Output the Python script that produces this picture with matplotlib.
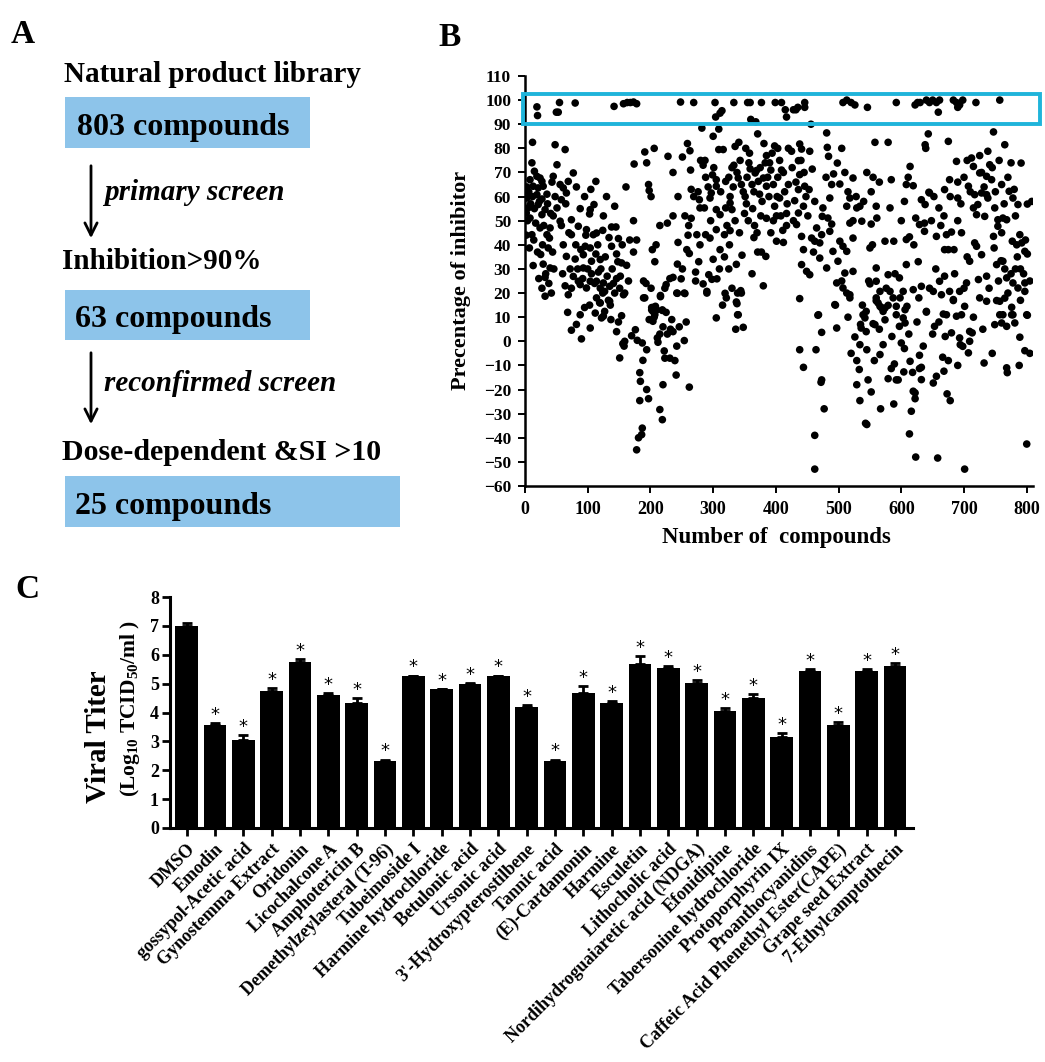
import numpy as np
import matplotlib
matplotlib.use("Agg")
import matplotlib.pyplot as plt
from matplotlib.patches import Rectangle

plt.rcParams['font.family'] = ['Liberation Serif', 'DejaVu Serif']
plt.rcParams['font.weight'] = 'bold'
plt.rcParams['mathtext.fontset'] = 'custom'
plt.rcParams['mathtext.rm'] = 'Liberation Serif:bold'
plt.rcParams['mathtext.it'] = 'Liberation Serif:bold'
plt.rcParams['mathtext.bf'] = 'Liberation Serif:bold'

# ---------------- Panel A (flow) ----------------
flow_headers = ["Natural product library", "Inhibition>90%", "Dose-dependent &SI >10"]
flow_boxes = ["803 compounds", "63 compounds", "25 compounds"]
flow_steps = ["primary screen", "reconfirmed screen"]

# ---------------- Panel B (scatter: compound number, % inhibition) ----------------
seg_a = [(12,82.5),(11,74),(15,70.5),(8,67),(19,68.4),(24,67.7),(27,66.3),(13,64.3),(21,63.6),(29,64.3),
         (3,59.4),(19,60.8),(21,56.7),(5,55.3),(2,53.2),(8,51.1),(27,52.5),(32,54.6),(24,47),(40,47),
         (11,44.2),(35,44.2),(39,42.8),(7,38.7),(37,38.7),(13,31.4),(29,32),(40,30.4),(32,26.5),(27,22),
         (32,18.7),(19,97.2),(20,93.6),(48,81.5),(51,73.2),(45,68.4),(56,65),(61,63.6),(64,79.5),(48,60),
         (58,58.7),(51,55.3),(56,49.8),(58,48),(50,95),(53,95),(55,99),(80,98.8),
         (3,64),(6,62),(9,57),(12,60),(15,55),(4,50),(17,49),(23,58),(27,59),(30,48),(35,61),(36,57),
         (41,53),(43,66),(45,52),(2,44),(14,42),(20,37),(25,36),(28,40),(33,28),(38,24),(44,37),(46,30),
         (42,20),(22,26),(74,50.4),(74,44.2),(61,40),(66,35.2),(80,34.1),(77,69.8),(69,66.3),(66,61.5),
         (69,19.3),(74,22),(77,26.9),(65,57),(70,45),(72,30),(60,28),(64,23),(68,12),(74,4.6)]
seg_b = [(85,47.7),(98,46.3),(109,44.2),(81,40),(96,39.4),(104,38.7),(93,35.9),(106,33.2),(93,30.4),(85,24.9),
         (98,22.1),(88,23.5),(104,24.9),(113,66.3),(110,56.7),(104,54.6),(103,52.8),(114,44.9),(113,36.2),(120,33.9),
         (117,28.7),(125,24.2),(114,24.9),(120,22),(127,20.7),(135,22.8),(143,20),(151,22),(157,19.3),(120,15.9),
         (135,16.6),(127,12.4),(125,10.4),(143,56),(138,47.4),(145,47.4),(149,42.6),(138,39.4),(146,36.2),(154,32.5),
         (162,31.5),(146,26),(142,97.4),(82,7),(90,1),(88,11),(95,14),(103,15),(104,5.5),(112,11.7),
         (114,18),(119,16),(122,9.7),(124,20),(133,17),(136,15),(137,9),(149,8),(146,4),(154,10.6),
         (151,-6.9),(156,-1),(158,-2),(159,0),(159,20),(84,30),(89,38),(92,26),(97,44),(100,30),
         (106,28),(111,24),(116,40),(121,30),(124,46),(128,35),(131,27),(134,43),(139,30),(141,24),
         (148,33),(152,27),(155,40),(88,55),(95,60),(105,63),(125,52),(130,60),(82,64)]
seg_c = [(157,98.5),(163,99),(168,99),(173,99.2),(178,98.5),(174,73.5),(161,64),(173,50),(167,42),(178,42),
         (173,37),(165,25),(191,78.5),(194,74),(197,65),(198,62.5),(201,60),(206,80),(215,48),(203,38),
         (209,40),(207,33),(189,25),(193,24),(201,22),(189,18),(202,14),(204,12.4),(210,13),(206,10),
         (216,18.5),(219,12.8),(223,22),(225,23.5),(228,76.7),(227,49),(231,26),(236,26.5),(236,70),(236,52),
         (244,60),(244,41),(243,32),(251,30),(249,25.9),(243,19.9),(255,19.8),(255,52),(261,48),(260,44),
         (248,99.2),(251,76.4),(259,82),(263,79),(258,38),(262,36.4),
         (170,2.3),(176,4.8),(179,0.4),(183,-13),(184,-16.6),(183,-24.6),(181,-40),(186,-38.7),(187,-36),(178,-45),
         (187,-0.7),(188,-7.9),(191,18),(194,-3.5),(194,-20),(197,-23.8),(198,9),(202,13),(204,14),(204,8.3),
         (207,11),(208,14.5),(211,1.4),(212,-0.4),(215,3),(215,-28.3),(219,-32.5),(216,19),(219,13),(225,12),
         (220,6),(222,-4),(220,-18),(223,-7),(227,3),(232,5),(234,9),(236,4),(231,-7),(239,-8),
         (241,-14),(242,-2),(246,6),(242,20),(254,20),(254,0.3),(257,8),(262,-19)]
seg_d = [(269,99),(264,71),(265,63),(269,60),(265,51),(272,25),(272,28.7),(277,33),(274,44.2),(279,40),
         (279,55.3),(276,62),(278,58.7),(280,75),(284,73),(282,88.4),(287,75),(292,64),(286,55.3),(288,44.2),
         (284,23.8),(290,20.7),(293,27.6),(298,25.7),(295,59.4),(303,99),(304,93),(311,94.6),(314,95.6),(300,85),
         (309,88),(301,72),(299,69),(305,67),(305,64.3),(297,61.5),(305,54.6),(311,52.5),(305,46.3),(318,44.2),
         (295,42.8),(311,38),(318,35),(309,79.5),(316,79.5),(320,66.3),(320,55.3),(306,25.9),(319,19.9),(305,9.7),
         (333,99),(335,80.8),(330,72),(333,73),(327,60),(327,57.3),(330,54.6),(327,45.9),(346,35.7),(337,31.9),
         (330,22),(345,20),(337,16.3),(340,11),(341,82.5),(340,67.7),(345,65),(351,60),(350,53),(355,99),
         (359,99),(360,92),(368,91),(371,86),(352,80),(358,78),(359,71.5),(369,70.8),(367,69.8),(372,66.3),
         (365,62),(374,61),(353,57),(366,48),(365,43),(371,37),(377,37),(362,28),(380,23),(377,99),
         (383,74),(380,67.7),(385,64.3),(396,65),(402,60),(406,59.4),(385,51),(396,50),(401,52),(408,52),
         (417,53),(401,41.5),(412,41),(411,46),(417,48),(384,35.2),(398,81),(403,80),(385,77),(390,74),
         (409,71),(412,70),(420,80),(420,65),(399,99),(409,99),(415,96),(417,93),
         (290,20),(321,18),(339,20),(344,21),(338,15.6),(339,11),(336,5),(348,5.8),
         (325,68),(332,64),(338,70),(343,75),(348,62),(354,68),(357,74),(362,65),(375,72),(378,58),
         (381,82),(387,68),(389,60),(392,71),(394,78),(398,56),(403,68),(406,75),(414,62),(418,57),
         (288,68),(296,50),(312,62),(322,48),(326,40),(335,50),(342,45),(356,50),(363,55),(370,45),
         (376,52),(392,45),(310,30),(300,34),(325,30),(315,15)]
seg_e = [(438,81.8),(425,78.8),(441,79.7),(436,74.9),(454,78.8),(438,69.1),(446,64.3),(436,62.9),(430,58.3),(444,56),
         (436,53.2),(433,48.4),(441,43.5),(457,42.8),(470,40.8),(462,41.5),(458,71.4),(453,62.9),(481,86.4),(482,80.4),
         (484,76.7),(498,73.9),(492,69.4),(480,68),(502,65.2),(489,65),(486,59.4),(475,55.3),(474,51.8),(483,51.1),
         (489,48.6),(486,45.6),(473,44.2),(491,37.3),(499,33.2),(449,29),(454,27.6),(441,31.8),(470,34.5),(481,30.4),
         (468,11),(494,15.2),(497,24.2),(507,22.1),(518,19.3),(510,28.3),(523,29),(438,17.7),
         (426,72),(432,66),(440,75),(445,70),(448,60),(451,52),(428,50),(465,47),(462,58),(460,37),(444,38),
         (428,96),(432,96),(435,97),(446,97),(446,99),(456,90),(507,99),(513,100),(520,99),(526,98),
         (546,97),(592,99),
         (558,82.5),(579,82.5),(555,68),(584,67),(582,55.3),(523,67.7),(518,59.4),(513,56),(534,56),(529,55.3),
         (523,50),(518,49),(537,49.8),(552,48.6),(561,51.1),(554,40),(550,38.7),(523,42.8),(507,39.4),(513,37.3),
         (502,41.5),(574,41.5),(588,41.5),
         (539,11),(544,12.4),(550,23.8),(560,30.4),(560,24.9),(566,20.7),(560,18),(566,14.5),(571,12.4),(579,27.6),
         (582,20.7),(587,18),(592,14.5),(592,11),(597,26.3),
         (467,10.8),(473,3.7),(438,-3.5),(464,-3.5),(444,-10.8),(473,-16),(472,-17),(477,-28),(462,-39),(462,-53),
         (497,5.5),(495,15),(513,20),(518,18),(526,1.8),(529,-8),(533,-11.7),(529,-18),(534,-24.6),(543,-34),
         (545,-34.5),(534,-1.4),(535,7),(536,5.5),(542,9.7),(544,4),(547,-16),(552,-21),(545,-3.5),(555,7.3),
         (558,6.9),(560,16.8),(563,15.9),(566,-5.5),(567,-28),(568,14),(571,-1.4),(574,8.9),(574,13.8),(579,-15.5),
         (579,14.9),(584,-11.3),(588,-26),(589,-9.4),(592,-16),(595,-16),(597,6.2),
         (505,25),(515,10),(520,-5),(538,15),(548,25),(557,-8),(565,5),(576,22),(585,2),(590,28),(598,18),
         (505,80),(510,70),(515,62),(528,60),(540,58),(545,70),(552,62),(560,56),(565,66)]
seg_f = [(622,98),(626,99),(630,99),(640,100),(645,99),(650,100),(656,99),(661,100),(659,95),(683,100),
         (688,99),(690,97),(693,98),(698,100),(719,99),(757,100),
         (614,72.5),(608,65),(619,64.5),(632,58.7),(638,56.7),(644,61.8),(638,81.5),(639,80),(643,86),(660,55.3),
         (669,62.9),(675,82.9),(677,67),(678,60),(690,59.4),(688,74.6),(707,64.3),(712,76),(715,72.5),(725,77),
         (738,78.8),(725,69.8),(736,68.4),(741,73.2),(744,67),(717,60.8),(722,56.7),(728,61.5),(736,60.8),(738,59.4),
         (715,55.3),(720,52.5),(733,51.8),(749,55.3),(754,50.4),(762,51.1),(768,50.4),(754,47.7),(772,62.2),(778,59.4),
         (786,56.7),(801,56.9),(747,86.8),(765,81.5),(791,73.9),(623,51.1),(629,48.4),(637,45.6),(656,43.5),(672,44.2),
         (680,45.3),(608,42.2),(613,43.3),(637,49),(645,61.5),(669,38),(675,38),(717,40.8),(720,39.4),(728,35.9),
         (747,43.5),(748,38.7),(777,41.5),(784,40),(789,44.2),(797,37.3),(801,36.2),(792,40.8),(709,33.2),(759,33.4),
         (603,20.7),(608,31.8),(606,13.1),(619,21.4),(632,22.8),(640,12.4),(651,20.7),(661,24.9),(664,19.3),(669,27),
         (672,11),(677,20.7),(683,17.3),(693,20.7),(696,11),(704,24.2),(723,25.6),(736,27),(736,16.6),(752,31.8),
         (762,33.2),(757,16.6),(762,11),(768,26.3),(778,24.2),(778,11),(786,22.1),(797,24.2),(800,11),
         (600,-0.7),(603,9.7),(604,-12.7),(606,7.6),(609,14.5),(614,-8.3),(613,-38.4),(616,-29),(619,-20.7),(622,-21.4),
         (622,-23.8),(623,-48),(618,-12.9),(629,-5.8),(629,-11.3),(632,-15.9),(632,-10.8),(640,12.1),(650,3),(651,-17.3),
         (653,6.2),(656,-14.5),(658,-48.4),(666,-6.6),(668,-12.4),(667,11.3),(673,-21.8),(678,-24.6),(680,3.5),(683,16.9),
         (688,10.4),(693,1.4),(694,-1.4),(698,-2.1),(701,14.5),(701,-53),(707,-4.8),(709,0),(709,4.1),(713,3.5),
         (732,-9),(749,6.9),(752,16.9),(757,11),(760,7.6),(765,17.9),(768,-11),(769,-13),(768,6.2),(776,14.1),
         (776,11),(781,7.6),(789,1.7),(788,-10),(797,-3.9),(801,10.8),(800,-42.6),(797,20.7),
         (605,-3),(612,3),(625,8),(628,18),(635,-2),(645,22),(655,30),(660,8),(670,2),(675,-8),(685,28),
         (690,-10),(700,22),(705,35),(715,10),(725,18),(730,5),(740,22),(745,-5),(755,25),(765,30),(770,20),
         (782,30),(790,17),(795,28),(805,-5),
         (700,68),(705,75),(710,62),(728,70),(732,64),(745,72),(750,62),(756,75),(760,65),(764,57),(770,68),
         (775,74),(780,63),(690,66),(695,57),(760,45),(782,52),(798,42),(805,25),(808,58),(790,30),(785,35),
         (775,28),(600,50),(605,58),(611,68),(620,40),(627,33),(648,50),(652,60),(663,48),(668,52),(684,38),
         (690,50),(696,45)]

# ---------------- Panel C (viral titer) ----------------
compounds = ["DMSO", "Emodin", "gossypol-Acetic acid", "Gynostemma Extract", "Oridonin",
             "Licochalcone A", "Amphotericin B", "Demethylzeylasteral (T-96)", "Tubeimoside I",
             "Harmine hydrochloride", "Betulonic acid", "Ursonic acid", "3'-Hydroxypterostilbene",
             "Tannic acid", "(E)-Cardamonin", "Harmine", "Esculetin", "Lithocholic acid",
             "Nordihydroguaiaretic acid (NDGA)", "Efonidipine", "Tabersonine hydrochloride",
             "Protoporphyrin IX", "Proanthocyanidins", "Caffeic Acid Phenethyl Ester(CAPE)",
             "Grape seed Extract", "7-Ethylcamptothecin"]
titer = [7.0, 3.55, 3.05, 4.75, 5.75, 4.62, 4.34, 2.33, 5.26, 4.80, 4.98, 5.26, 4.18,
         2.33, 4.69, 4.34, 5.67, 5.54, 5.02, 4.04, 4.50, 3.16, 5.45, 3.57, 5.45, 5.62]
titer_err = [0.10, 0.08, 0.17, 0.10, 0.09, 0.05, 0.17, 0.04, 0.02, 0.02, 0.03, 0.02, 0.09,
             0.04, 0.23, 0.07, 0.30, 0.07, 0.10, 0.10, 0.15, 0.14, 0.06, 0.10, 0.06, 0.10]
significant = [False] + [True] * 25

W, H = 1045, 1062
fig = plt.figure(figsize=(W / 100, H / 100), dpi=100)

# full-figure pixel axes for panel A and free text
axA = fig.add_axes([0, 0, 1, 1])
axA.set_xlim(0, W)
axA.set_ylim(H, 0)
axA.axis('off')

box_color = '#8dc4ea'
axA.text(11, 43, 'A', fontsize=24, fontweight='bold', va='baseline')
axA.text(438, 46, 'B', fontsize=24, fontweight='bold', va='baseline')
axA.text(15, 598, 'C', fontsize=24, fontweight='bold', va='baseline')

axA.text(64, 82, flow_headers[0], fontsize=21, va='baseline')
axA.add_patch(Rectangle((65, 97), 245, 51, color=box_color, lw=0))
axA.text(77, 135, flow_boxes[0], fontsize=23, va='baseline')
axA.annotate('', xy=(91, 241), xytext=(91, 163),
             arrowprops=dict(arrowstyle='->', lw=2, color='black', mutation_scale=22))
axA.text(104, 200, flow_steps[0], fontsize=21, style='italic', va='baseline')

axA.text(62, 269, flow_headers[1], fontsize=21, va='baseline')
axA.add_patch(Rectangle((65, 290), 245, 50, color=box_color, lw=0))
axA.text(75, 327, flow_boxes[1], fontsize=23, va='baseline')
axA.annotate('', xy=(91, 427), xytext=(91, 350),
             arrowprops=dict(arrowstyle='->', lw=2, color='black', mutation_scale=22))
axA.text(104, 391, flow_steps[1], fontsize=21, style='italic', va='baseline')

axA.text(62, 460, flow_headers[2], fontsize=21.5, va='baseline')
axA.add_patch(Rectangle((65, 476), 335, 51, color=box_color, lw=0))
axA.text(75, 514, flow_boxes[2], fontsize=23, va='baseline')

# ---------------- Panel B ----------------
pts = np.array(seg_a + seg_b + seg_c + seg_d + seg_e + seg_f, dtype=float)
axB = fig.add_axes([525 / W, 1 - 486 / H, 508 / W, 410 / H])
axB.scatter(pts[:, 0], pts[:, 1], s=30, c='black', edgecolors='none', zorder=3)
axB.set_xlim(0, 810)
axB.set_ylim(-60, 110)
axB.set_xticks(np.arange(0, 801, 100))
axB.set_yticks(np.arange(-60, 111, 10))
for s in ['top', 'right']:
    axB.spines[s].set_visible(False)
for s in ['left', 'bottom']:
    axB.spines[s].set_linewidth(1.8)
axB.tick_params(axis='both', direction='out', length=5, width=1.4)
axB.tick_params(axis='x', labelsize=13, pad=6)
axB.tick_params(axis='y', labelsize=12.5, pad=5)
axB.add_patch(Rectangle((-3, 90.2), 824, 12.5, fill=False, edgecolor='#1fb4da',
                        lw=2.8, clip_on=False, zorder=4))
axA.text(461, 280, 'Precentage of inhibitor', fontsize=16, rotation=90,
         ha='center', va='center')
axA.text(776, 537, 'Number of  compounds', fontsize=16.5, ha='center', va='center')

# ---------------- Panel C ----------------
axC = fig.add_axes([170 / W, 1 - 828 / H, 743 / W, 231 / H])
pos = np.arange(len(compounds))
axC.bar(pos, titer, width=0.8, color='black', zorder=2,
        yerr=[np.zeros(len(titer)), titer_err], capsize=3.5,
        error_kw=dict(elinewidth=2, capthick=2, ecolor='black'))
for i, (v, e, sg) in enumerate(zip(titer, titer_err, significant)):
    if sg:
        axC.text(i, v + e + 0.28, '*', ha='center', va='center', fontsize=13,
                 family='DejaVu Sans', fontweight='normal')
axC.set_xlim(-0.59, 25.64)
axC.set_ylim(0, 8)
axC.set_yticks(np.arange(0, 9, 1))
axC.set_xticks(pos)
axC.set_xticklabels(compounds, rotation=45, ha='right', rotation_mode='anchor',
                    fontsize=13, fontweight='bold')
for s in ['top', 'right']:
    axC.spines[s].set_visible(False)
for s in ['left', 'bottom']:
    axC.spines[s].set_linewidth(2.2)
axC.tick_params(axis='both', direction='out', length=6, width=2)
axC.tick_params(axis='y', labelsize=13, pad=2)
axC.tick_params(axis='x', pad=3)

axA.text(98, 737, 'Viral Titer', fontsize=21, rotation=90, ha='center', va='center')
axA.text(130, 708, '(Log$_{10}$ TCID$_{50}$/ml )', fontsize=15.5, rotation=90,
         ha='center', va='center')

fig.savefig('out.png', dpi=100)
